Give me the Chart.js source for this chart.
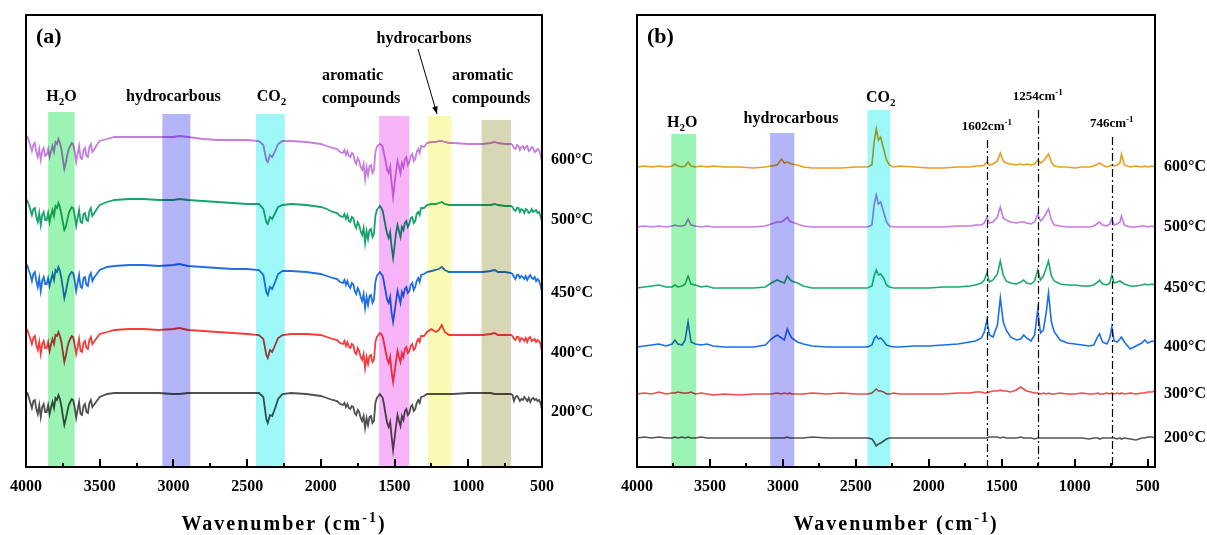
<!DOCTYPE html>
<html>
<head>
<meta charset="utf-8">
<script src="https://cdn.jsdelivr.net/npm/chart.js@4.4.1/dist/chart.umd.min.js"></script>
<style>
  body { margin: 0; background: #fff; width: 1207px; height: 535px; overflow: hidden; position: relative; }
  canvas { position: absolute; top: 0; }
  #ca { left: 0; }
  #cb { left: 600px; }
</style>
</head>
<body>
<canvas id="ca" width="600" height="535"></canvas>
<canvas id="cb" width="607" height="535"></canvas>
<script>
const FONT = '"Liberation Serif", "Times New Roman", serif'
const tickValues = [4000, 3500, 3000, 2500, 2000, 1500, 1000, 500]

// ---- panel (a) ----
const wavenumbersA = [
  4000,3990,3980,3970,3960,3950,3940,3930,3920,3910,
  3900,3890,3880,3870,3860,3850,3840,3830,3820,3810,
  3800,3790,3780,3770,3760,3750,3740,3730,3720,3710,
  3700,3690,3680,3670,3660,3650,3640,3630,3620,3610,
  3600,3590,3580,3570,3560,3550,3540,3520,3500,3450,
  3400,3300,3200,3100,3000,2960,2900,2800,2700,2600,
  2500,2420,2390,2370,2360,2345,2330,2310,2290,2260,
  2200,2100,2000,1960,1920,1890,1870,1850,1840,1830,
  1820,1810,1800,1790,1780,1770,1760,1750,1740,1730,
  1720,1710,1700,1690,1680,1670,1660,1650,1640,1630,
  1620,1610,1600,1590,1580,1570,1560,1550,1540,1530,
  1520,1510,1500,1490,1480,1470,1460,1450,1440,1430,
  1420,1410,1400,1390,1380,1370,1360,1350,1340,1330,
  1320,1300,1280,1250,1220,1200,1180,1160,1130,1100,
  1000,900,850,820,800,750,710,700,690,680,
  670,660,650,640,630,620,610,600,590,580,
  570,560,550,540,530,520,510,500
]
const a600 = [
  2,0,-4,-9,-14,-8,-6,-15,-20,-12,
  -23,-14,-11,-19,-18,-12,-20,-14,-9,-15,
  -5,-7,-2,-6,-12,-22,-32,-26,-18,-12,
  -9,-6,-7,-14,-25,-17,-9,-21,-22,-13,
  -11,-19,-20,-10,-7,-15,-13,-8,-4,-2,
  0,0,0,0,0,1,0,-2,-3,-3,
  -3,-4,-8,-23,-25,-18,-20,-14,-7,-4,
  -4,-5,-7,-9,-11,-12,-15,-16,-13,-18,
  -14,-19,-20,-16,-17,-24,-27,-21,-24,-30,
  -33,-27,-42,-30,-38,-29,-28,-36,-33,-15,
  -10,-8,-7,-8,-10,-18,-25,-33,-36,-30,
  -46,-60,-47,-35,-24,-30,-36,-26,-30,-22,
  -20,-28,-25,-19,-17,-24,-22,-15,-12,-16,
  -9,-10,-6,-5,-5,-4,-4,-5,-6,-6,
  -7,-7,-6,-5,-6,-7,-7,-8,-11,-12,
  -8,-9,-13,-10,-9,-12,-10,-9,-14,-13,
  -10,-11,-15,-14,-12,-13,-17,-26
]
const a500 = [
  1,-1,-5,-10,-15,-9,-8,-17,-22,-13,
  -25,-15,-12,-20,-20,-13,-22,-15,-10,-16,
  -6,-8,-3,-7,-14,-22,-30,-27,-20,-13,
  -10,-7,-8,-15,-26,-18,-10,-22,-23,-14,
  -13,-20,-21,-11,-8,-16,-14,-9,-5,-2,
  0,1,1,0,0,1,0,-1,-2,-3,
  -4,-4,-9,-22,-24,-17,-19,-13,-7,-5,
  -4,-5,-7,-9,-12,-13,-16,-17,-14,-19,
  -15,-21,-22,-17,-18,-25,-28,-22,-25,-31,
  -35,-28,-43,-31,-39,-30,-29,-37,-34,-16,
  -10,-8,-6,-8,-11,-19,-27,-34,-38,-32,
  -47,-58,-46,-33,-25,-31,-37,-27,-30,-23,
  -21,-27,-24,-18,-17,-23,-21,-14,-12,-15,
  -8,-8,-5,-4,-4,-3,-2,-4,-5,-5,
  -5,-5,-5,-4,-5,-6,-6,-7,-10,-11,
  -8,-8,-12,-9,-10,-13,-9,-10,-13,-12,
  -9,-12,-11,-10,-13,-12,-16,-22
]
const a450 = [
  1,-1,-6,-10,-16,-9,-7,-16,-22,-13,
  -26,-16,-12,-19,-19,-13,-21,-15,-9,-15,
  -5,-7,-2,-6,-13,-23,-33,-27,-19,-12,
  -9,-7,-8,-15,-26,-18,-10,-22,-23,-13,
  -12,-20,-21,-11,-8,-16,-13,-9,-5,-2,
  -1,0,0,-1,0,1,-1,-2,-3,-4,
  -4,-5,-10,-27,-30,-22,-24,-17,-9,-6,
  -6,-7,-9,-11,-13,-14,-17,-18,-15,-20,
  -16,-21,-23,-18,-19,-26,-29,-23,-26,-32,
  -36,-29,-43,-32,-40,-31,-30,-38,-35,-17,
  -11,-9,-7,-9,-11,-19,-27,-35,-38,-32,
  -48,-57,-47,-36,-26,-32,-38,-27,-31,-24,
  -22,-28,-26,-20,-18,-25,-22,-16,-13,-17,
  -10,-9,-7,-6,-5,-4,-2,-5,-7,-7,
  -7,-7,-6,-5,-7,-7,-8,-9,-12,-14,
  -10,-10,-13,-11,-12,-14,-11,-15,-12,-10,
  -13,-14,-12,-16,-14,-16,-20,-27
]
const a400 = [
  1,0,-5,-9,-14,-8,-6,-15,-20,-12,
  -24,-14,-11,-18,-18,-12,-21,-14,-9,-14,
  -5,-6,-2,-6,-12,-22,-32,-26,-18,-12,
  -9,-6,-7,-14,-24,-17,-9,-21,-22,-13,
  -11,-18,-19,-10,-7,-14,-12,-8,-4,-2,
  0,1,1,0,1,2,0,-1,-2,-3,
  -4,-5,-9,-25,-28,-20,-22,-15,-8,-5,
  -4,-4,-5,-7,-9,-10,-13,-14,-11,-16,
  -12,-17,-18,-14,-15,-22,-24,-18,-21,-27,
  -30,-24,-38,-27,-34,-26,-25,-32,-30,-12,
  -7,-5,-3,-4,-7,-14,-22,-29,-33,-27,
  -42,-52,-42,-31,-21,-27,-32,-23,-27,-19,
  -17,-23,-21,-16,-14,-20,-18,-12,-9,-12,
  -6,-6,-2,1,-2,0,5,-2,-5,-5,
  -5,-5,-4,-3,-5,-5,-5,-6,-9,-10,
  -7,-7,-11,-8,-9,-11,-8,-12,-8,-7,
  -11,-10,-9,-12,-10,-11,-14,-22
]
const a200 = [
  1,0,-5,-10,-15,-8,-7,-16,-21,-12,
  -24,-14,-11,-19,-19,-12,-21,-14,-9,-15,
  -5,-7,-2,-6,-13,-23,-32,-26,-19,-12,
  -9,-6,-7,-14,-25,-17,-9,-21,-22,-13,
  -11,-19,-20,-10,-7,-14,-12,-8,-4,-1,
  0,0,0,0,-1,-1,0,0,0,0,
  0,0,-4,-26,-30,-22,-23,-15,-6,-1,
  0,-1,-3,-5,-7,-8,-11,-12,-10,-14,
  -11,-15,-16,-13,-14,-20,-22,-17,-19,-25,
  -28,-23,-35,-25,-32,-24,-23,-30,-28,-10,
  -5,-3,-1,-3,-5,-13,-22,-30,-34,-29,
  -44,-57,-45,-33,-22,-28,-33,-23,-27,-18,
  -16,-22,-20,-14,-12,-18,-16,-10,-7,-10,
  -4,-3,-1,-1,-1,-1,-1,-1,-1,-1,
  0,0,0,-1,-1,-1,-1,-2,-8,-4,
  -3,-5,-8,-6,-7,-4,-6,-8,-5,-9,
  -6,-5,-7,-6,-8,-7,-10,-17
]
const tempsA = ['600°C', '500°C', '450°C', '400°C', '200°C']
const offsetsA = [330, 267, 202, 137, 74]
const colorsA = ['#c77ddf', '#17a36b', '#1f70e0', '#f53b3b', '#505050']
const seriesA = [a600, a500, a450, a400, a200]

// ---- panel (b) ----
const wavenumbersB = [
  4000,3950,3900,3850,3800,3760,3740,3720,3690,3670,
  3650,3630,3600,3560,3520,3480,3400,3300,3200,3120,
  3080,3040,3010,2990,2970,2955,2940,2900,2860,2800,
  2700,2600,2500,2420,2390,2375,2360,2345,2330,2310,
  2290,2270,2240,2200,2100,2000,1900,1800,1720,1680,
  1640,1620,1602,1585,1560,1530,1510,1490,1470,1440,
  1400,1370,1350,1330,1300,1275,1254,1235,1215,1195,
  1180,1160,1140,1100,1050,1000,950,900,870,840,
  830,810,780,760,746,730,710,690,680,660,
  620,580,540,520,500,470,450
]
const b600 = [
  0,1,0,1,0,1,3,1,0,1,
  5,1,0,1,0,1,0,0,-1,0,
  1,2,8,4,5,4,3,2,0,-1,
  -1,-1,0,0,2,25,38,27,30,18,
  7,2,0,1,0,-1,-1,0,0,1,
  1,2,5,2,3,6,14,6,4,3,
  2,3,2,3,2,3,7,4,6,10,
  13,5,1,0,0,-1,0,0,1,3,
  4,2,0,1,2,1,2,4,13,2,
  0,1,0,1,0,1,0
]
const b500 = [
  0,1,0,1,0,1,2,1,1,2,
  8,2,1,0,1,0,0,0,0,1,
  3,5,5,7,10,6,5,3,1,0,
  0,0,0,0,2,22,32,23,25,15,
  5,1,0,0,0,0,0,1,1,2,
  2,4,10,4,5,10,20,9,7,5,
  4,5,5,4,3,5,13,6,9,14,
  18,7,2,1,0,0,0,0,1,4,
  5,2,1,3,8,2,3,5,11,2,
  0,0,1,1,0,1,0
]
const b450 = [
  0,1,2,3,1,1,3,1,2,4,
  12,4,3,1,2,0,0,0,0,1,
  5,8,6,5,12,9,7,5,2,0,
  0,0,0,0,2,12,18,13,14,10,
  3,1,0,0,0,0,1,1,2,3,
  5,8,15,6,8,14,27,13,7,5,
  4,6,8,5,4,7,18,8,12,20,
  27,12,7,4,3,3,2,2,3,6,
  8,4,3,5,13,5,6,7,6,4,
  2,2,3,4,3,4,3
]
const b400 = [
  0,1,2,3,1,3,7,3,2,7,
  25,5,3,2,3,1,0,0,0,2,
  8,12,9,7,18,13,9,5,3,1,
  0,0,0,0,2,8,11,8,9,6,
  2,1,0,0,1,1,2,3,5,6,
  9,15,27,12,10,22,49,25,17,10,
  7,8,12,9,6,12,37,14,17,35,
  54,25,15,7,4,3,2,1,2,11,
  13,5,3,9,20,6,5,8,10,5,
  -2,1,4,7,4,6,5
]
const b300 = [
  0,1,0,2,0,1,1,2,1,1,
  1,2,0,1,0,-1,0,-1,0,0,
  0,1,0,1,0,1,0,0,0,1,
  0,1,0,0,1,3,5,3,3,2,
  0,0,1,0,0,0,0,1,1,2,
  2,1,1,2,3,3,4,3,3,2,
  4,7,5,3,2,1,1,0,1,0,
  1,0,0,1,0,0,1,0,0,1,
  0,0,1,0,1,0,1,0,1,0,
  1,0,1,1,2,2,3
]
const b200 = [
  0,1,0,1,0,0,1,0,1,0,
  1,0,0,1,0,0,0,0,0,0,
  0,0,0,0,1,0,0,0,0,1,
  0,0,0,0,-1,-4,-8,-6,-5,-3,
  -1,0,0,0,0,0,0,0,0,0,
  0,0,0,1,1,1,0,1,0,0,
  0,1,0,0,0,-1,0,0,0,0,
  0,0,0,0,0,0,0,-1,0,0,
  -1,0,0,0,0,0,-1,0,-1,0,
  -1,-2,0,0,1,1,0
]
const tempsB = ['600°C', '500°C', '450°C', '400°C', '300°C', '200°C']
const offsetsB = [300, 240, 179, 120, 73, 29]
const colorsB = ['#e5a020', '#c67be6', '#1aaa6a', '#1a6fe6', '#f24b4b', '#555555']
const seriesB = [b600, b500, b450, b400, b300, b200]

// shaded assignment bands (wavenumber ranges)
const bandsA = [
  { name: [['H'], ['2', 'sub'], ['O']], from: 3850, to: 3670, top: 355, labelAt: 3760, labelY: 101, color: '#9cf4b4' },
  { name: [['hydrocarbous']], from: 3075, to: 2885, top: 353, labelAt: 3000, labelY: 101, color: '#b4b4f8' },
  { name: [['CO'], ['2', 'sub']], from: 2440, to: 2245, top: 353, labelAt: 2335, labelY: 101, color: '#9ef8f8' },
  { name: null, from: 1605, to: 1400, top: 351, color: '#f8b4f8' },
  { name: null, from: 1275, to: 1115, top: 351, color: '#fafab4' },
  { name: null, from: 910, to: 710, top: 347, color: '#d8d6b4' }
]
const bandsB = [
  { name: [['H'], ['2', 'sub'], ['O']], from: 3765, to: 3595, top: 333, labelAt: 3690, labelY: 127, color: '#9cf4b4' },
  { name: [['hydrocarbous']], from: 3087, to: 2922, top: 334, labelAt: 2945, labelY: 123, color: '#b4b4f8' },
  { name: [['CO'], ['2', 'sub']], from: 2421, to: 2264, top: 357, labelAt: 2330, labelY: 102, color: '#9ef8f8' }
]
const peaksB = [1602, 1254, 746]
const peakTopsB = [327, 357, 330]

function richText(ctx, parts, x, y, size, align) {
  const fontFor = p => `bold ${p[1] ? Math.round(size * 0.68) : size}px ${FONT}`
  let w = 0
  parts.forEach(p => { ctx.font = fontFor(p); w += ctx.measureText(p[0]).width })
  let cx = align === 'center' ? x - w / 2 : x
  ctx.textAlign = 'left'
  ctx.textBaseline = 'alphabetic'
  parts.forEach(p => {
    ctx.font = fontFor(p)
    const dy = p[1] === 'sub' ? size * 0.28 : p[1] === 'sup' ? -size * 0.42 : 0
    ctx.fillText(p[0], cx, y + dy)
    cx += ctx.measureText(p[0]).width
  })
}

function decor(cfg) {
  return {
    id: 'decor',
    afterDatasetsDraw(chart) {
      const { ctx, chartArea: a, scales: { x, y } } = chart
      ctx.save()
      ctx.globalCompositeOperation = 'multiply'
      cfg.bands.forEach(b => {
        const x1 = x.getPixelForValue(b.from), x2 = x.getPixelForValue(b.to)
        const yt = y.getPixelForValue(b.top)
        ctx.fillStyle = b.color
        ctx.fillRect(Math.min(x1, x2), yt, Math.abs(x2 - x1), a.bottom - yt)
      })
      ctx.restore()

      ctx.save()
      ctx.strokeStyle = '#000'
      ctx.lineWidth = 1.2
      ctx.setLineDash([8, 3, 2, 3])
      ;(cfg.peaks || []).forEach((p, i) => {
        const px = Math.round(x.getPixelForValue(p)) + 0.5
        ctx.beginPath()
        ctx.moveTo(px, y.getPixelForValue(cfg.peakTops[i]))
        ctx.lineTo(px, a.bottom)
        ctx.stroke()
      })
      ctx.restore()

      ctx.save()
      ctx.strokeStyle = '#000'
      ctx.lineWidth = 2
      ctx.strokeRect(a.left, a.top, a.right - a.left, a.bottom - a.top)
      for (let w = 4000; w >= cfg.min; w -= 250) {
        const px = Math.round(x.getPixelForValue(w))
        const len = w % 500 === 0 ? 8 : 4
        ctx.beginPath()
        ctx.moveTo(px, a.bottom)
        ctx.lineTo(px, a.bottom - len)
        ctx.stroke()
      }
      ctx.restore()
    },
    afterDraw(chart) {
      const { ctx, chartArea: a, scales: { x, y } } = chart
      ctx.save()
      ctx.fillStyle = '#000'
      richText(ctx, [[cfg.panel]], a.left + 10, 43, 22, 'left')
      cfg.bands.forEach(b => {
        if (b.name) richText(ctx, b.name, x.getPixelForValue(b.labelAt), b.labelY, 16, 'center')
      })
      ;(cfg.peaks || []).forEach((p, i) => {
        const ty = y.getPixelForValue(cfg.peakTops[i]) - 10
        richText(ctx, [[String(p) + 'cm'], ['-1', 'sup']], x.getPixelForValue(p), ty, 13, 'center')
      })
      ;(cfg.notes || []).forEach(n => richText(ctx, n.parts, n.x, n.y, 16, n.align))
      if (cfg.arrow) {
        const [x1, y1, x2, y2] = cfg.arrow
        ctx.strokeStyle = '#000'
        ctx.lineWidth = 1
        ctx.beginPath(); ctx.moveTo(x1, y1); ctx.lineTo(x2, y2); ctx.stroke()
        const ang = Math.atan2(y2 - y1, x2 - x1)
        ctx.beginPath()
        ctx.moveTo(x2, y2)
        ctx.lineTo(x2 - 8 * Math.cos(ang - 0.35), y2 - 8 * Math.sin(ang - 0.35))
        ctx.lineTo(x2 - 8 * Math.cos(ang + 0.35), y2 - 8 * Math.sin(ang + 0.35))
        ctx.closePath(); ctx.fill()
      }
      cfg.temps.forEach((t, i) => {
        ctx.font = `bold 16px ${FONT}`
        ctx.textAlign = 'left'
        ctx.textBaseline = 'middle'
        ctx.fillText(t, a.right + 9, y.getPixelForValue(cfg.offsets[i] - cfg.labelDrop[i]))
      })
      ctx.letterSpacing = '2px'
      richText(ctx, [['Wavenumber (cm'], ['-1', 'sup'], [')']], (a.left + a.right) / 2, 530, 20, 'center')
      ctx.letterSpacing = '0px'
      ctx.restore()
    }
  }
}

function makeChart(id, cfg) {
  const datasets = cfg.series.map((s, i) => ({
    label: cfg.temps[i],
    data: cfg.wavenumbers.map((w, j) => ({ x: w, y: s[j] + cfg.offsets[i] })),
    borderColor: cfg.colors[i],
    borderWidth: cfg.lineWidth,
    pointRadius: 0,
    tension: 0,
    fill: false
  }))
  return new Chart(document.getElementById(id), {
    type: 'line',
    data: { datasets },
    options: {
      responsive: false,
      animation: false,
      events: [],
      layout: { padding: cfg.padding },
      plugins: { legend: { display: false }, tooltip: { enabled: false } },
      scales: {
        x: {
          type: 'linear',
          reverse: true,
          min: cfg.min,
          max: 4000,
          afterBuildTicks: s => { s.ticks = tickValues.map(v => ({ value: v })) },
          afterFit: s => { s.height = 68 },
          grid: { display: false, drawTicks: false },
          border: { display: false },
          ticks: {
            maxRotation: 0,
            autoSkip: false,
            padding: 10,
            color: '#000',
            font: { family: FONT, size: 16, weight: 'bold' },
            callback: v => String(v)
          }
        },
        y: { display: false, min: 0, max: 452 }
      }
    },
    plugins: [decor(cfg)]
  })
}

makeChart('ca', {
  panel: '(a)',
  wavenumbers: wavenumbersA, series: seriesA, temps: tempsA, offsets: offsetsA, colors: colorsA,
  lineWidth: 1.8, min: 500, bands: bandsA, labelDrop: [23, 20, 28, 23, 19],
  padding: { left: 25, right: 58, top: 15, bottom: 0 },
  notes: [
    { parts: [['aromatic']], x: 322, y: 80, align: 'left' },
    { parts: [['compounds']], x: 322, y: 103, align: 'left' },
    { parts: [['aromatic']], x: 452, y: 80, align: 'left' },
    { parts: [['compounds']], x: 452, y: 103, align: 'left' },
    { parts: [['hydrocarbons']], x: 424, y: 43, align: 'center' }
  ],
  arrow: [418, 49, 437, 114]
})

makeChart('cb', {
  panel: '(b)',
  wavenumbers: wavenumbersB, series: seriesB, temps: tempsB, offsets: offsetsB, colors: colorsB,
  lineWidth: 1.6, min: 450, bands: bandsB, labelDrop: [0, 0, 0, 0, 0, 0],
  peaks: peaksB, peakTops: peakTopsB,
  padding: { left: 37, right: 52, top: 15, bottom: 0 }
})
</script>
</body>
</html>
